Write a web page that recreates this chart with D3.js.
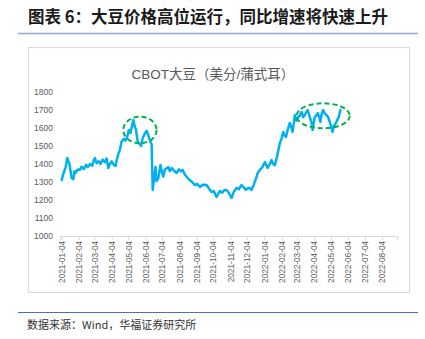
<!DOCTYPE html>
<html>
<head>
<meta charset="utf-8">
<script src="https://cdn.jsdelivr.net/npm/d3@7"></script>
<style>
  html, body { margin: 0; padding: 0; background: #fff; }
  svg { display: block; }
</style>
</head>
<body>
<svg id="fig" width="425" height="339"></svg>
<script>
// CBOT soybean price, US cents per bushel
const dates = [
  "2021-01-04","2021-01-08","2021-01-11","2021-01-14","2021-01-18","2021-01-22","2021-01-25","2021-01-27","2021-01-29",
  "2021-02-02","2021-02-06","2021-02-09","2021-02-13","2021-02-17","2021-02-20","2021-02-24","2021-02-28",
  "2021-03-03","2021-03-05","2021-03-08","2021-03-12","2021-03-15","2021-03-19","2021-03-23","2021-03-26","2021-03-29",
  "2021-04-01","2021-04-04","2021-04-08","2021-04-11","2021-04-13","2021-04-16","2021-04-19","2021-04-22","2021-04-26","2021-04-29",
  "2021-05-02","2021-05-05","2021-05-08","2021-05-13","2021-05-16","2021-05-18","2021-05-21","2021-05-25","2021-05-27","2021-05-30",
  "2021-06-03","2021-06-06","2021-06-09","2021-06-12","2021-06-15","2021-06-17","2021-06-20","2021-06-22","2021-06-24","2021-06-27",
  "2021-07-01","2021-07-04","2021-07-06","2021-07-09","2021-07-15","2021-07-18","2021-07-21","2021-07-25","2021-07-30",
  "2021-08-03","2021-08-07","2021-08-10","2021-08-14","2021-08-19","2021-08-23","2021-08-27",
  "2021-09-01","2021-09-05","2021-09-10","2021-09-15","2021-09-22","2021-09-26",
  "2021-10-01","2021-10-05","2021-10-10","2021-10-13","2021-10-16","2021-10-20","2021-10-24","2021-10-28",
  "2021-11-01","2021-11-06","2021-11-10","2021-11-15","2021-11-19","2021-11-24","2021-11-28",
  "2021-12-02","2021-12-05","2021-12-09","2021-12-12","2021-12-16","2021-12-21","2021-12-23","2021-12-27","2021-12-31",
  "2022-01-05","2022-01-10","2022-01-14","2022-01-17","2022-01-20","2022-01-23","2022-01-27",
  "2022-02-01","2022-02-04","2022-02-07","2022-02-09","2022-02-12","2022-02-15","2022-02-19","2022-02-22","2022-02-24","2022-02-28",
  "2022-03-03","2022-03-05","2022-03-09","2022-03-12","2022-03-15","2022-03-18","2022-03-21","2022-03-23","2022-03-27","2022-03-30",
  "2022-04-01","2022-04-03","2022-04-05","2022-04-08","2022-04-10","2022-04-13","2022-04-15","2022-04-17","2022-04-20","2022-04-23","2022-04-26","2022-04-29",
  "2022-05-02","2022-05-05","2022-05-07","2022-05-09","2022-05-13","2022-05-17","2022-05-18","2022-05-21"
];
const prices = [
  1311,1355,1380,1433,1400,1322,1315,1360,1350,
  1370,1368,1385,1372,1395,1383,1400,1390,
  1420,1433,1405,1415,1400,1425,1410,1430,1378,
  1400,1415,1395,1389,1420,1455,1480,1525,1540,1530,
  1550,1589,1572,1644,1605,1590,1522,1510,1500,1544,
  1570,1585,1560,1530,1510,1256,1330,1383,1305,1320,
  1394,1350,1330,1370,1383,1360,1378,1365,1350,
  1370,1360,1367,1340,1322,1310,1300,
  1283,1290,1272,1285,1283,1265,
  1244,1250,1217,1235,1250,1240,1255,1256,
  1240,1211,1245,1267,1260,1283,1270,
  1256,1265,1267,1256,1285,1328,1350,1367,1380,
  1411,1378,1400,1422,1400,1394,1440,
  1517,1540,1578,1560,1550,1589,1628,1600,1578,1672,
  1640,1656,1670,1689,1660,1672,1690,1700,1660,1630,
  1589,1630,1661,1670,1683,1660,1633,1675,1700,1680,1672,1660,
  1633,1600,1578,1610,1628,1655,1661,1700
];
const yTicks = [1000, 1100, 1200, 1300, 1400, 1500, 1600, 1700, 1800];
const xTickLabels = [
  "2021-01-04","2021-02-04","2021-03-04","2021-04-04","2021-05-04","2021-06-04","2021-07-04",
  "2021-08-04","2021-09-04","2021-10-04","2021-11-04","2021-12-04","2022-01-04","2022-02-04",
  "2022-03-04","2022-04-04","2022-05-04","2022-06-04","2022-07-04","2022-08-04"
];
// highlighted zones: [start date, end date, high value, low value]
const highlightZones = [
  ["2021-04-25", "2021-06-24", 1663, 1515],
  ["2022-03-03", "2022-06-07", 1737, 1598]
];

const parse = d3.timeParse("%Y-%m-%d");
const series = dates.map((d, i) => ({ date: parse(d), value: prices[i] }));

const svg = d3.select("#fig");
svg.append("rect").attr("width", 425).attr("height", 339).attr("fill", "#fff");

// Heading and rule
svg.append("text")
  .attr("x", 28).attr("y", 23)
  .attr("font-family", "'Noto Sans CJK SC', sans-serif")
  .attr("font-weight", "bold").attr("font-size", 16.5)
  .attr("fill", "#1a1a1a")
  .text("图表 6：大豆价格高位运行，同比增速将快速上升");
svg.append("line").attr("x1", 18).attr("x2", 418).attr("y1", 33.5).attr("y2", 33.5)
  .attr("stroke", "#8eaadb").attr("stroke-width", 1.5);

// Chart frame
svg.append("rect").attr("x", 28.5).attr("y", 47.5).attr("width", 381).attr("height", 245)
  .attr("fill", "#fff").attr("stroke", "#d9d9d9").attr("stroke-width", 1);

svg.append("text")
  .attr("x", 213).attr("y", 79).attr("text-anchor", "middle")
  .attr("font-family", "'Liberation Sans', 'Noto Sans CJK SC', sans-serif")
  .attr("font-size", 13.5).attr("fill", "#595959")
  .text("CBOT大豆（美分/蒲式耳）");

// Scales
const x = d3.scaleTime().domain([parse("2021-01-01"), parse("2022-08-31")]).range([60, 397]);
const y = d3.scaleLinear().domain([1000, 1800]).range([236, 92]);

// Y axis (labels only)
const yAxis = svg.append("g").attr("transform", "translate(55,0)")
  .call(d3.axisLeft(y).tickValues(yTicks).tickSize(0).tickPadding(2).tickFormat(d3.format("d")));
yAxis.select(".domain").remove();
yAxis.selectAll("text")
  .attr("font-family", "'Liberation Sans', sans-serif").attr("font-size", 8.5).attr("fill", "#595959");

// X axis
const xAxis = svg.append("g").attr("transform", "translate(0,236)")
  .call(d3.axisBottom(x).tickValues(xTickLabels.map(parse)).tickSize(4).tickFormat(d3.timeFormat("%Y-%m-%d")));
xAxis.select(".domain").attr("stroke", "#d9d9d9");
xAxis.selectAll(".tick line").attr("stroke", "#d9d9d9");
xAxis.selectAll("text")
  .attr("font-family", "'Liberation Sans', sans-serif").attr("font-size", 8.2).attr("fill", "#595959")
  .attr("transform", "rotate(-90)")
  .attr("text-anchor", "end")
  .attr("x", -5).attr("y", 0).attr("dy", "0.33em");

// Price line
const line = d3.line().x(d => x(d.date)).y(d => y(d.value));
svg.append("path").datum(series)
  .attr("d", line).attr("fill", "none")
  .attr("stroke", "#00b0f0").attr("stroke-width", 2.5)
  .attr("stroke-linejoin", "round").attr("stroke-linecap", "round");

// Dashed highlight ellipses
highlightZones.forEach(([d0, d1, hi, lo]) => {
  const x0 = x(parse(d0)), x1 = x(parse(d1));
  const y0 = y(hi), y1 = y(lo);
  svg.append("ellipse")
    .attr("cx", (x0 + x1) / 2).attr("cy", (y0 + y1) / 2)
    .attr("rx", (x1 - x0) / 2).attr("ry", (y1 - y0) / 2)
    .attr("fill", "none").attr("stroke", "#00b050")
    .attr("stroke-width", 2).attr("stroke-dasharray", "5,3");
});

// Source note
svg.append("line").attr("x1", 18).attr("x2", 418).attr("y1", 312.5).attr("y2", 312.5)
  .attr("stroke", "#4472c4").attr("stroke-width", 1.2);
svg.append("text")
  .attr("x", 27).attr("y", 329)
  .attr("font-family", "'Noto Sans CJK SC', sans-serif")
  .attr("font-size", 11).attr("fill", "#333")
  .text("数据来源：Wind，华福证券研究所");
</script>
</body>
</html>
